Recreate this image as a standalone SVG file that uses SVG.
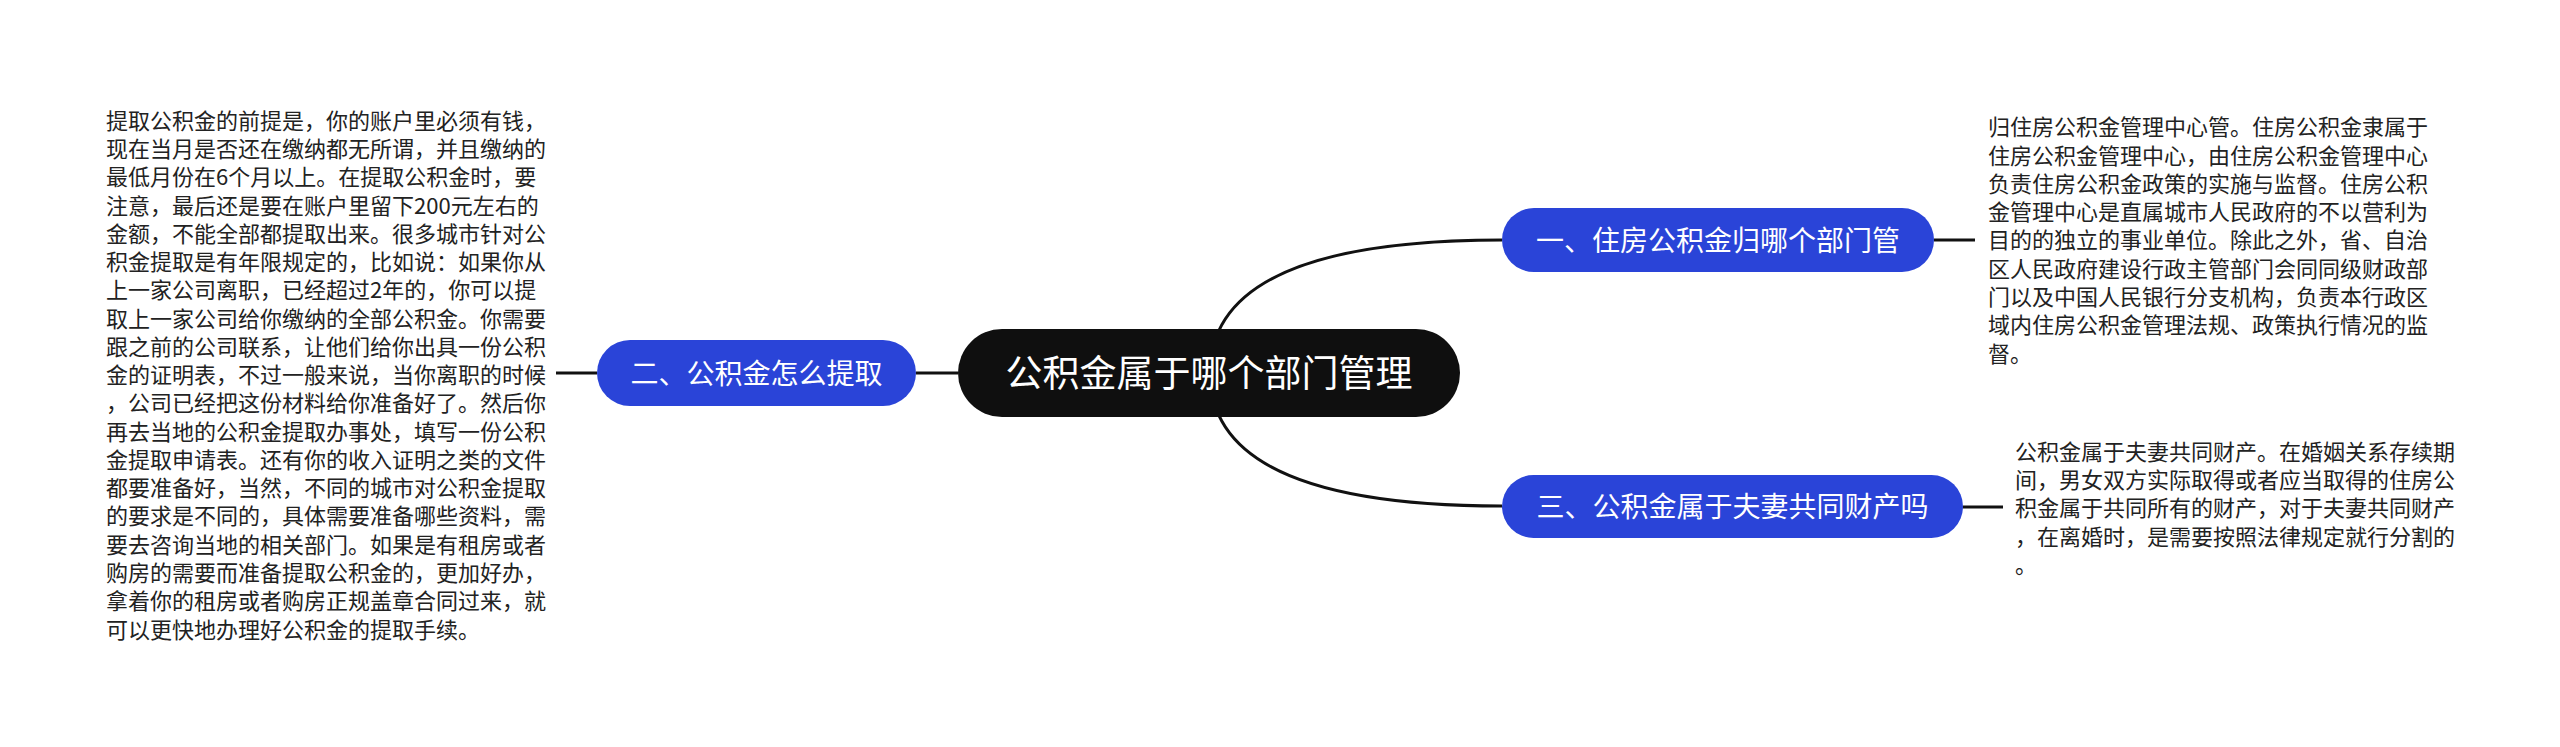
<svg xmlns="http://www.w3.org/2000/svg" width="2560" height="747" viewBox="0 0 2560 747">
<style>
.edge{fill:none;stroke:#111;stroke-width:3}
.root rect{fill:#0f0f0f}
.topic rect{fill:#2a44d8}
.root text{fill:#fff;font-family:"Noto Sans CJK SC","Noto Sans",sans-serif;font-size:37px;text-anchor:middle}
.topic text{fill:#fff;font-family:"Noto Sans CJK SC","Noto Sans",sans-serif;font-size:28px;text-anchor:middle}
.leaf text{fill:#222;font-family:"Noto Sans CJK SC","Noto Sans",sans-serif;font-size:22px}
</style>
<rect width="2560" height="747" fill="#fff"/>
<g id="connectors">
<path class="edge" d="M1210 373 Q1210 240 1502 240"/>
<path class="edge" d="M1210 373 Q1210 506 1502 506"/>
<path class="edge" d="M958 373 L916 373"/>
<path class="edge" d="M1934 240 L1975 240"/>
<path class="edge" d="M1963 507 L2003 507"/>
<path class="edge" d="M597 373 L556 373"/>
</g>
<g id="root" class="root">
<rect x="958" y="329" width="502" height="88" rx="44"/>
<text x="1209" y="387">公积金属于哪个部门管理</text>
</g>
<g id="topic1" class="topic">
<rect x="1502" y="208" width="432" height="64" rx="32"/>
<text x="1718" y="250.6">一、住房公积金归哪个部门管</text>
</g>
<g id="topic2" class="topic">
<rect x="597" y="340" width="319" height="66" rx="33"/>
<text x="756.5" y="383.6">二、公积金怎么提取</text>
</g>
<g id="topic3" class="topic">
<rect x="1502" y="475" width="461" height="63" rx="31.5"/>
<text x="1732.5" y="517.1">三、公积金属于夫妻共同财产吗</text>
</g>
<g id="leaf1" class="leaf">
<text x="1988">
<tspan x="1988" y="135.2">归住房公积金管理中心管。住房公积金隶属于</tspan>
<tspan x="1988" y="163.5">住房公积金管理中心，由住房公积金管理中心</tspan>
<tspan x="1988" y="191.8">负责住房公积金政策的实施与监督。住房公积</tspan>
<tspan x="1988" y="220.1">金管理中心是直属城市人民政府的不以营利为</tspan>
<tspan x="1988" y="248.4">目的的独立的事业单位。除此之外，省、自治</tspan>
<tspan x="1988" y="276.7">区人民政府建设行政主管部门会同同级财政部</tspan>
<tspan x="1988" y="305.0">门以及中国人民银行分支机构，负责本行政区</tspan>
<tspan x="1988" y="333.3">域内住房公积金管理法规、政策执行情况的监</tspan>
<tspan x="1988" y="361.6">督。</tspan>
</text>
</g>
<g id="leaf2" class="leaf">
<text x="106">
<tspan x="106" y="128.7">提取公积金的前提是，你的账户里必须有钱，</tspan>
<tspan x="106" y="157.0">现在当月是否还在缴纳都无所谓，并且缴纳的</tspan>
<tspan x="106" y="185.2">最低月份在6个月以上。在提取公积金时，要</tspan>
<tspan x="106" y="213.5">注意，最后还是要在账户里留下200元左右的</tspan>
<tspan x="106" y="241.8">金额，不能全部都提取出来。很多城市针对公</tspan>
<tspan x="106" y="270.0">积金提取是有年限规定的，比如说：如果你从</tspan>
<tspan x="106" y="298.3">上一家公司离职，已经超过2年的，你可以提</tspan>
<tspan x="106" y="326.6">取上一家公司给你缴纳的全部公积金。你需要</tspan>
<tspan x="106" y="354.8">跟之前的公司联系，让他们给你出具一份公积</tspan>
<tspan x="106" y="383.1">金的证明表，不过一般来说，当你离职的时候</tspan>
<tspan x="106" y="411.4">，公司已经把这份材料给你准备好了。然后你</tspan>
<tspan x="106" y="439.6">再去当地的公积金提取办事处，填写一份公积</tspan>
<tspan x="106" y="467.9">金提取申请表。还有你的收入证明之类的文件</tspan>
<tspan x="106" y="496.2">都要准备好，当然，不同的城市对公积金提取</tspan>
<tspan x="106" y="524.4">的要求是不同的，具体需要准备哪些资料，需</tspan>
<tspan x="106" y="552.7">要去咨询当地的相关部门。如果是有租房或者</tspan>
<tspan x="106" y="581.0">购房的需要而准备提取公积金的，更加好办，</tspan>
<tspan x="106" y="609.2">拿着你的租房或者购房正规盖章合同过来，就</tspan>
<tspan x="106" y="637.5">可以更快地办理好公积金的提取手续。</tspan>
</text>
</g>
<g id="leaf3" class="leaf">
<text x="2015">
<tspan x="2015" y="459.8">公积金属于夫妻共同财产。在婚姻关系存续期</tspan>
<tspan x="2015" y="488.1">间，男女双方实际取得或者应当取得的住房公</tspan>
<tspan x="2015" y="516.4">积金属于共同所有的财产，对于夫妻共同财产</tspan>
<tspan x="2015" y="544.7">，在离婚时，是需要按照法律规定就行分割的</tspan>
<tspan x="2015" y="573.0">。</tspan>
</text>
</g>
</svg>
